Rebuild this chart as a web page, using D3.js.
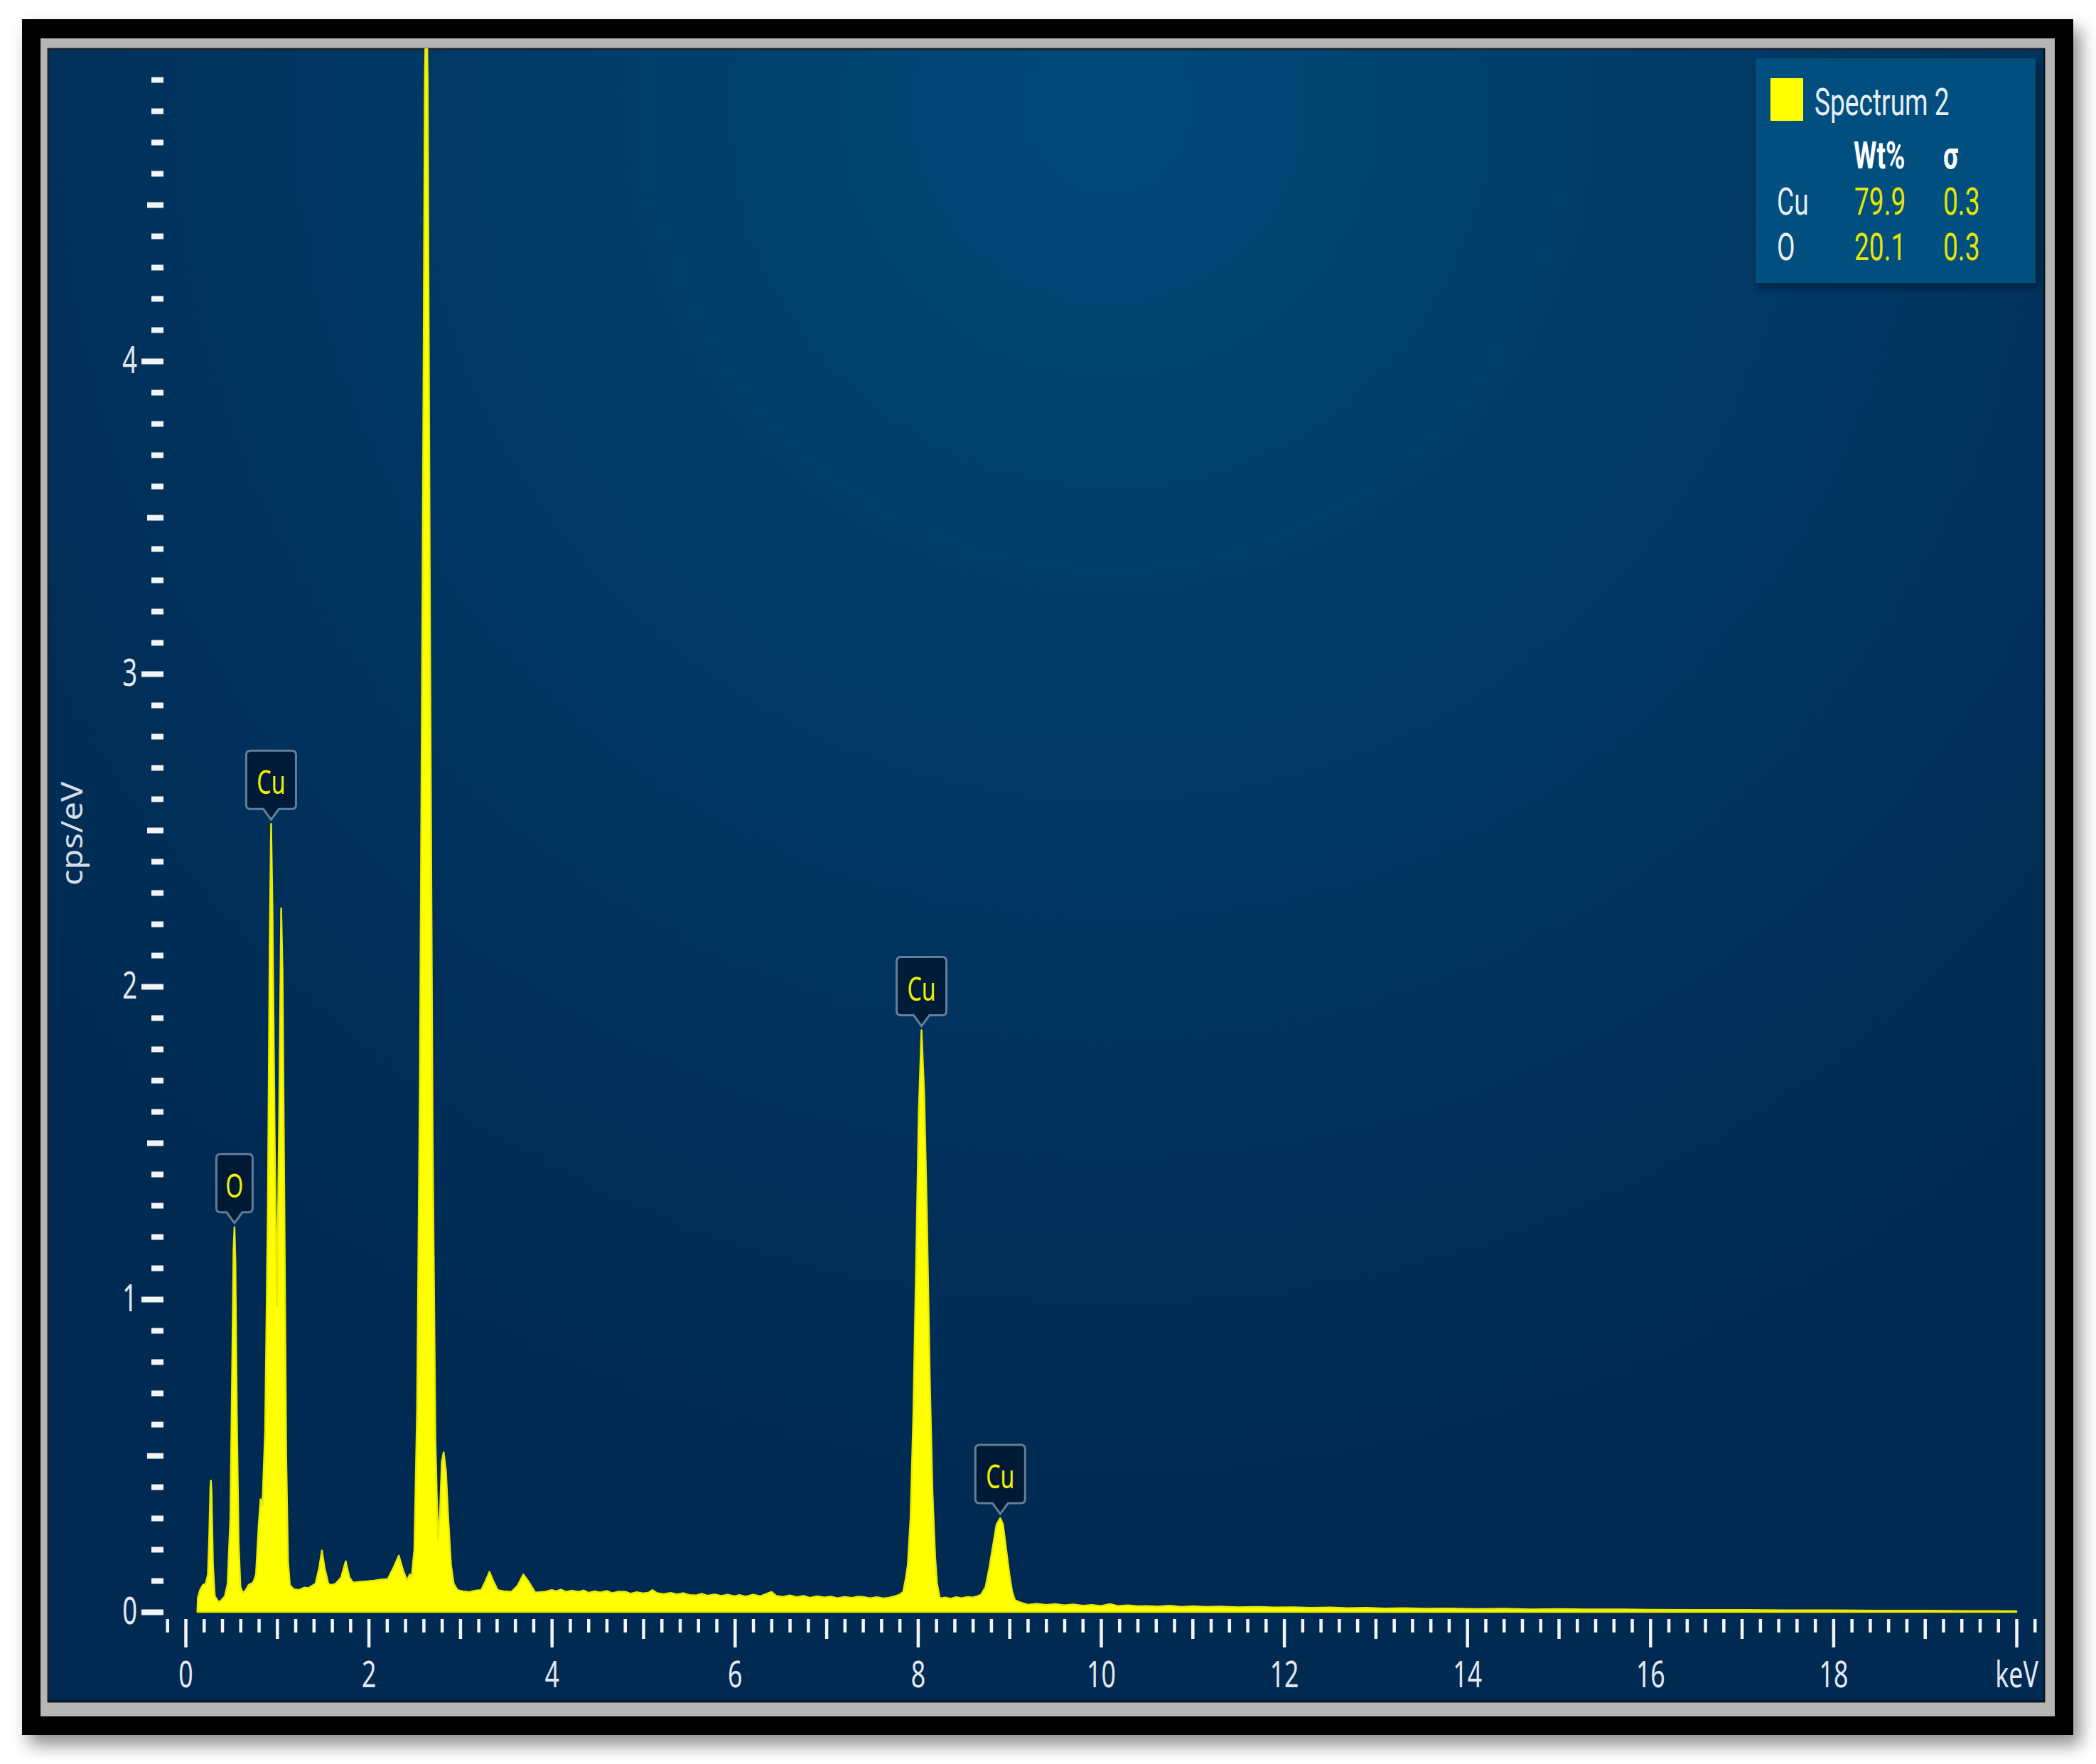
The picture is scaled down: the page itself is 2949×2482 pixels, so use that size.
<!DOCTYPE html>
<html><head><meta charset="utf-8">
<script src="https://cdn.jsdelivr.net/npm/d3@7"></script>
<style>html,body{margin:0;padding:0;background:#fff;} svg{display:block;}</style>
</head><body><svg id="c" width="2949" height="2482"></svg>
<script>
// ---------------- data ----------------
const energy = [
0.13,0.135,0.16,0.19,0.22,0.245,0.26,0.272,0.278,0.285,0.30,0.32,0.365,0.40,0.43,0.46,0.49,0.51,0.525,0.535,0.545,0.56,0.58,0.60,0.627,0.66,0.69,0.74,0.77,0.80,0.82,0.84,0.87,0.90,0.92,0.935,0.95,0.975,1.00,1.025,1.045,1.06,1.08,1.10,1.12,1.14,1.18,1.24,1.30,1.34,1.42,1.46,1.49,1.52,1.56,1.59,1.64,1.70,1.75,1.79,1.83,1.90,1.98,2.06,2.12,2.21,2.27,2.33,2.38,2.42,2.45,2.47,2.50,2.53,2.56,2.59,2.615,2.63,2.645,2.67,2.70,2.73,2.757,2.78,2.80,2.82,2.845,2.87,2.90,2.93,2.97,3.03,3.10,3.17,3.23,3.28,3.32,3.36,3.41,3.48,3.56,3.63,3.69,3.74,3.82,3.92,
4.00,4.05,4.10,4.16,4.22,4.29,4.35,4.40,4.47,4.53,4.60,4.66,4.73,4.81,4.86,4.93,5.00,5.06,5.10,5.15,5.22,5.30,5.37,5.44,5.50,5.58,5.64,5.70,5.78,5.85,5.92,6.00,6.05,6.12,6.20,6.28,6.35,6.40,6.45,6.52,6.60,6.68,6.75,6.82,6.90,6.98,7.05,7.12,7.20,7.28,7.35,7.40,7.48,7.55,7.62,7.68,7.75,7.80,7.84,7.87,7.89,7.92,7.95,7.98,8.01,8.04,8.07,8.10,8.13,8.16,8.19,8.21,8.24,8.30,8.36,8.42,8.48,8.54,8.60,8.65,8.69,8.74,8.78,8.82,8.86,8.90,8.93,8.96,9.00,9.03,9.06,9.12,9.20,
9.30,9.40,9.50,9.60,9.70,9.80,9.90,10.00,10.10,10.18,10.30,10.40,10.50,10.62,10.75,10.88,11.00,11.15,11.30,11.50,11.70,11.90,12.10,12.30,12.50,12.70,12.90,13.10,13.30,13.55,13.80,14.10,14.40,14.70,15.00,15.30,15.65,16.00,16.50,17.00,17.50,18.00,18.50,19.00,19.50,20.00
];
const cps = [
0,0.045,0.07,0.086,0.09,0.12,0.25,0.40,0.42,0.38,0.15,0.05,0.03,0.04,0.05,0.09,0.30,0.78,1.16,1.23,1.12,0.65,0.22,0.08,0.06,0.07,0.086,0.094,0.12,0.28,0.36,0.34,0.58,1.3,2.15,2.52,2.25,1.5,0.98,1.65,2.25,2.05,1.3,0.5,0.16,0.086,0.073,0.07,0.078,0.076,0.09,0.14,0.196,0.14,0.09,0.086,0.09,0.11,0.162,0.11,0.094,0.096,0.098,0.10,0.103,0.105,0.14,0.18,0.13,0.10,0.12,0.11,0.20,0.65,1.7,3.3,4.9,5.2,4.9,3.2,1.5,0.55,0.23,0.32,0.48,0.51,0.45,0.30,0.15,0.09,0.07,0.066,0.063,0.068,0.07,0.10,0.128,0.10,0.07,0.066,0.064,0.085,0.12,0.10,0.062,0.064,
0.070,0.066,0.071,0.064,0.068,0.064,0.069,0.061,0.066,0.062,0.067,0.060,0.065,0.064,0.058,0.063,0.059,0.062,0.070,0.060,0.057,0.061,0.056,0.060,0.054,0.053,0.058,0.052,0.056,0.051,0.055,0.050,0.054,0.049,0.055,0.050,0.058,0.064,0.052,0.048,0.053,0.047,0.051,0.045,0.050,0.046,0.049,0.044,0.048,0.045,0.049,0.048,0.044,0.047,0.043,0.045,0.050,0.055,0.064,0.11,0.15,0.30,0.62,1.10,1.60,1.86,1.65,1.25,0.75,0.38,0.17,0.09,0.043,0.046,0.042,0.047,0.044,0.048,0.046,0.05,0.055,0.08,0.14,0.21,0.28,0.30,0.28,0.21,0.12,0.065,0.038,0.030,0.023,
0.026,0.022,0.025,0.021,0.024,0.020,0.022,0.019,0.025,0.019,0.021,0.018,0.019,0.017,0.020,0.016,0.018,0.016,0.017,0.015,0.016,0.014,0.015,0.013,0.014,0.012,0.013,0.011,0.012,0.010,0.011,0.009,0.010,0.008,0.009,0.008,0.008,0.007,0.006,0.006,0.005,0.005,0.004,0.004,0.003,0.002
];
const xTickValues = [0,2,4,6,8,10,12,14,16,18,20];
const xTickLabels = ["0","2","4","6","8","10","12","14","16","18","keV"];
const yTickValues = [0,1,2,3,4];
const yTickLabels = ["0","1","2","3","4"];
const yTitle = "cps/eV";
const peakLabels = ["O","Cu","Cu","Cu"];
const peakEnergies = [0.535,0.935,8.04,8.90];
const peakHeights = [1.23,2.52,1.86,0.30];
const legendTitle = "Spectrum 2";
const legendColumns = ["Wt%","σ"];
const legendElements = ["Cu","O"];
const legendWt = ["79.9","20.1"];
const legendSigma = ["0.3","0.3"];

// ---------------- layout ----------------
const svg = d3.select("#c");
const FONT = "'Noto Sans', 'Open Sans', sans-serif";
const LFONT = "Roboto, 'Noto Sans', sans-serif";
const SX = 0.7; // horizontal squeeze of the text in the picture
const panel = {x:67, y:68, w:2810, h:2327};
const x = d3.scaleLinear().domain([0,20]).range([261,2837]);
const y = d3.scaleLinear().domain([0,5]).range([2268,68]);

const defs = svg.append("defs");
const ds = defs.append("filter").attr("id","frameShadow").attr("x","-5%").attr("y","-5%").attr("width","110%").attr("height","110%");
ds.append("feDropShadow").attr("dx",10).attr("dy",14).attr("stdDeviation",12).attr("flood-color","#000").attr("flood-opacity",0.45);
const ls = defs.append("filter").attr("id","legShadow").attr("x","-10%").attr("y","-10%").attr("width","130%").attr("height","130%");
ls.append("feDropShadow").attr("dx",4).attr("dy",6).attr("stdDeviation",6).attr("flood-color","#00111f").attr("flood-opacity",0.6);
const rg = defs.append("radialGradient").attr("id","bg").attr("gradientUnits","userSpaceOnUse")
  .attr("cx",1560).attr("cy",150).attr("r",2000);
rg.append("stop").attr("offset",0).attr("stop-color","#004a79");
rg.append("stop").attr("offset",0.3).attr("stop-color","#003f6c");
rg.append("stop").attr("offset",0.65).attr("stop-color","#00335e");
rg.append("stop").attr("offset",1).attr("stop-color","#002a52");
defs.append("clipPath").attr("id","pclip").append("rect")
  .attr("x",panel.x).attr("y",panel.y).attr("width",panel.w).attr("height",panel.h);

// frame
svg.append("rect").attr("x",31).attr("y",27).attr("width",2886).attr("height",2414)
  .attr("fill","#000").attr("filter","url(#frameShadow)");
svg.append("rect").attr("x",57).attr("y",54).attr("width",2834).attr("height",2361).attr("fill","#b6b6b6");
svg.append("rect").attr("x",panel.x).attr("y",panel.y).attr("width",panel.w).attr("height",panel.h).attr("fill","url(#bg)");
svg.append("path").attr("d",`M${panel.x+1},${panel.y+panel.h}V${panel.y+1}H${panel.x+panel.w}`)
  .attr("fill","none").attr("stroke","#1a2430").attr("stroke-width",3);
svg.append("path").attr("d",`M${panel.x},${panel.y+panel.h-1}H${panel.x+panel.w-1}V${panel.y}`)
  .attr("fill","none").attr("stroke","#0a1520").attr("stroke-width",3);

// spectrum
const pts = energy.map((e,i)=>[e,cps[i]]);
const area = d3.area().x(d=>x(d[0])).y0(y(0)).y1(d=>y(d[1])).curve(d3.curveLinear);
svg.append("g").attr("clip-path","url(#pclip)").append("path").datum(pts)
  .attr("d",area).attr("fill","#ffff00").attr("stroke","#eaea00").attr("stroke-width",2.5).attr("stroke-linejoin","round");

// ---------------- axes ----------------
function styleTicks(g, w){
  g.select(".domain").remove();
  g.selectAll(".tick line").attr("stroke","#f2f4f6").attr("stroke-width",w);
}
// x axis
const xAxisY = 2278;
const xMinor = d3.range(-1,102).map(i=>+(i*0.2).toFixed(1)).filter(v=>Math.abs(v-Math.round(v))>1e-6);
const xMid = d3.range(1,20,2);
[[xMinor,19],[xMid,28]].forEach(([vals,len])=>{
  svg.append("g").attr("transform",`translate(0,${xAxisY})`)
    .call(d3.axisBottom(x).tickValues(vals).tickSize(len).tickFormat(""))
    .call(g=>styleTicks(g,4.5));
});
const xMajor = svg.append("g").attr("transform",`translate(0,${xAxisY})`)
  .call(d3.axisBottom(x).tickValues(xTickValues).tickSize(40).tickPadding(20).tickFormat((d,i)=>xTickLabels[i]))
  .call(g=>styleTicks(g,4.5));
xMajor.selectAll(".tick text").attr("fill","#e4e8ee").attr("font-family",FONT).attr("font-size",51)
  .attr("transform",`scale(${SX},1)`);

// y axis
const yAxisX = 230;
const yMinor = d3.range(1,50).map(i=>+(i*0.1).toFixed(1)).filter(v=>Math.abs(v*2-Math.round(v*2))>1e-6);
const yMid = [0.5,1.5,2.5,3.5,4.5];
[[yMinor,17],[yMid,23]].forEach(([vals,len])=>{
  svg.append("g").attr("transform",`translate(${yAxisX},0)`)
    .call(d3.axisLeft(y).tickValues(vals).tickSize(len).tickFormat(""))
    .call(g=>styleTicks(g,8));
});
const yMajor = svg.append("g").attr("transform",`translate(${yAxisX},0)`)
  .call(d3.axisLeft(y).tickValues(yTickValues).tickSize(31).tickPadding(6).tickFormat((d,i)=>yTickLabels[i]))
  .call(g=>styleTicks(g,8));
yMajor.selectAll(".tick text").each(function(){
  const t = d3.select(this); const tx = +t.attr("x");
  t.attr("x",0).attr("transform",`translate(${tx},0) scale(${SX},1)`);
}).attr("fill","#e4e8ee").attr("font-family",FONT).attr("font-size",52);

// y title
svg.append("text").attr("transform","translate(116,1173) rotate(-90) scale(1.12,1)")
  .attr("text-anchor","middle").attr("font-family",FONT).attr("font-size",42)
  .attr("fill","#d6dde6").text(yTitle);

// ---------------- peak labels ----------------
peakLabels.forEach((lab,i)=>{
  const cx = x(peakEnergies[i]);
  const tip = y(peakHeights[i]) - 6;
  const bb = tip - 15, bt = bb - 82;
  const w = lab.length === 1 ? 51 : 70;
  const l = cx - w/2, r = cx + w/2, rr = 6;
  const d = `M${l+rr},${bt}H${r-rr}Q${r},${bt} ${r},${bt+rr}V${bb-rr}Q${r},${bb} ${r-rr},${bb}H${cx+11}L${cx},${tip}L${cx-11},${bb}H${l+rr}Q${l},${bb} ${l},${bb-rr}V${bt+rr}Q${l},${bt} ${l+rr},${bt}Z`;
  svg.append("path").attr("d",d).attr("fill","rgba(0,22,46,0.78)")
    .attr("stroke","rgba(150,175,200,0.65)").attr("stroke-width",3);
  svg.append("text").attr("transform",`translate(${cx},${bt+61}) scale(${SX},1)`)
    .attr("text-anchor","middle").attr("font-family",FONT).attr("font-size",46)
    .attr("fill","#f0f000").text(lab);
});

// ---------------- legend ----------------
const lg = svg.append("g");
lg.append("rect").attr("x",2470).attr("y",82).attr("width",394).attr("height",316)
  .attr("fill","#004f7e").attr("filter","url(#legShadow)");
lg.append("rect").attr("x",2491).attr("y",110).attr("width",46).attr("height",60).attr("fill","#ffff00");
function ltext(tx,ty,str,col,bold){
  lg.append("text").attr("transform",`translate(${tx},${ty}) scale(${SX},1)`)
    .attr("font-family",LFONT).attr("font-size",53).attr("font-weight",bold?"bold":"normal")
    .attr("fill",col).text(str);
}
ltext(2553,162,legendTitle,"#e8eef4",false);
ltext(2608,237,legendColumns[0],"#ffffff",true);
ltext(2734,237,legendColumns[1],"#ffffff",true);
legendElements.forEach((el,i)=>{
  const by = 302 + i*64;
  ltext(2500,by,el,"#e8eef4",false);
  ltext(2609,by,legendWt[i],"#e6e600",false);
  ltext(2734,by,legendSigma[i],"#e6e600",false);
});
</script></body></html>
